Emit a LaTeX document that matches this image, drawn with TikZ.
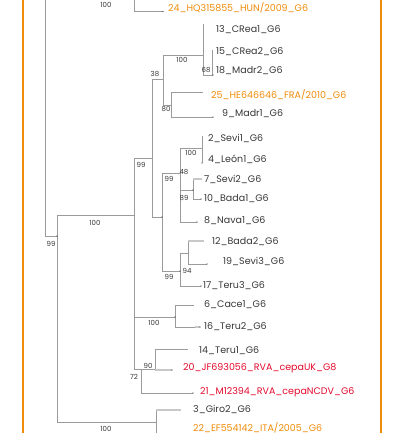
\documentclass[tikz,border=0pt]{standalone}
\usepackage{fontspec}
\setmainfont{Poppins}
\usepackage{xcolor}
\definecolor{treeline}{RGB}{155,155,155}
\definecolor{labeltext}{RGB}{55,55,55}
\definecolor{refstrain}{RGB}{240,140,10}
\definecolor{vaccine}{RGB}{228,10,45}
\usetikzlibrary{calc}
\tikzset{
  branch/.style={draw=treeline,line width=0.6pt},
  stub/.style={draw=treeline!55,line width=1.4pt},
  leaf/.style={anchor=west,inner sep=0pt,text height=6.6pt,text depth=0pt,%
    font=\fontsize{9.5}{11}\selectfont,text=labeltext},
  refleaf/.style={leaf,text=refstrain},
  vacleaf/.style={leaf,text=vaccine},
  boot/.style={inner sep=0pt,text height=5pt,text depth=0pt,%
    font=\fontsize{7}{8}\selectfont,text=labeltext},
  orangeframe/.style={draw=refstrain,line width=1.4pt},
}
\begin{document}
\begin{tikzpicture}[x=1pt,y=-1pt]
\useasboundingbox (0,0) rectangle (407,433);
\clip (0,0) rectangle (407,433);
\draw[orangeframe] (23,-5) rectangle (381,440);
% internal nodes
\coordinate (top) at (134,-5);
\coordinate (root) at (45,-5);
\coordinate (n57) at (57,236);
\coordinate (n134) at (134,215);
\coordinate (n156) at (156,422);
\coordinate (n152) at (152,158);
\coordinate (n175) at (175,317);
\coordinate (n141) at (141,369);
\coordinate (n163) at (163,79);
\coordinate (n162) at (162,217);
\coordinate (n203) at (203,55);
\coordinate (n212) at (212,75);
\coordinate (n171) at (171,105);
\coordinate (n180a) at (180,173);
\coordinate (n180b) at (180,271);
\coordinate (n202) at (202,148);
\coordinate (n193) at (193,190);
\coordinate (n188) at (188,253);
\coordinate (n155) at (155,369);
% tips
\coordinate (leaf24) at (163,11.5);
\coordinate (leaf13) at (203,24);
\coordinate (leaf15) at (212,50);
\coordinate (leaf18) at (213,75);
\coordinate (leaf25) at (203,92);
\coordinate (leaf9) at (213,117);
\coordinate (leaf2) at (202,136);
\coordinate (leaf4) at (202,163);
\coordinate (leaf7) at (202,179);
\coordinate (leaf10) at (201,199);
\coordinate (leaf8) at (197,222);
\coordinate (leaf12) at (204,241);
\coordinate (leaf19) at (207,264);
\coordinate (leaf17) at (201,286);
\coordinate (leaf6) at (194,305);
\coordinate (leaf16) at (200,327);
\coordinate (leaf14) at (188,349);
\coordinate (leaf20) at (172,370);
\coordinate (leaf21) at (193,393);
\coordinate (leaf3) at (181,410);
\coordinate (leaf22) at (182,438);
% branches
\draw[branch] (top) |- (leaf24);
\draw[branch] (root) |- (n57);
\draw[branch] (n57) |- (n134) (n57) |- (n156);
\draw[branch] (n134) |- (n152) (n134) |- (n175) (n134) |- (n141);
\draw[branch] (n152) |- (n163) (n152) |- (n162);
\draw[branch] (n163) |- (n203) (n163) |- (n171);
\draw[branch] (n203) |- (leaf13) (n203) |- (n212);
\draw[branch] (n212) |- (leaf15) (n212) |- (leaf18);
\draw[branch] (n171) |- (leaf25) (n171) |- (leaf9);
\draw[branch] (n162) |- (n180a) (n162) |- (n180b);
\draw[branch] (n180a) |- (n202) (n180a) |- (n193) (n180a) |- (leaf8);
\draw[branch] (n202) |- (leaf2) (n202) |- (leaf4);
\draw[branch] (n193) |- (leaf7) (n193) |- (leaf10);
\draw[branch] (n180b) |- (n188) (n180b) |- (leaf17);
\draw[branch] (n188) |- (leaf12) (n188) |- (leaf19);
\draw[branch] (n175) |- (leaf6) (n175) |- (leaf16);
\draw[branch] (n141) |- (n155) (n141) |- (leaf21);
\draw[branch] (n155) |- (leaf14) (n155) |- (leaf20);
\draw[branch] (n156) |- (leaf3) (n156) |- (leaf22);
\draw[stub] (n193 |- leaf7) -- (leaf7);
\draw[stub] (n188 |- leaf12) -- (leaf12);
\draw[stub] ($(leaf16)+(-5,0)$) -- (leaf16);
\draw[stub] (n155 |- leaf20) -- (leaf20);
\draw[stub] (n156 |- leaf3) -- (leaf3);
\fill[labeltext] (leaf24) circle (0.6pt) (leaf18) circle (0.6pt)
  (leaf9) circle (0.6pt) (leaf4) circle (0.6pt) (leaf10) circle (0.6pt)
  (leaf8) circle (0.6pt) (leaf19) circle (0.6pt) (leaf17) circle (0.6pt)
  (leaf16) circle (0.6pt) (leaf20) circle (0.6pt) (leaf21) circle (0.6pt)
  (n162) circle (0.6pt) (n180b) circle (0.6pt) (n175) circle (0.6pt)
  (n193) circle (0.6pt) (n57) circle (0.6pt);
% bootstrap values
\node[boot] (b24) at (106,5) {100};
\node[boot] (b203) at (182,60) {100};
\node[boot] (b212) at (206,70) {68};
\node[boot] (b163) at (155,74) {38};
\node[boot] (b171) at (166,109) {80};
\node[boot] (b152) at (141,165) {99};
\node[boot] (b202) at (191,153) {100};
\node[boot] (b162) at (169,179) {99};
\node[boot] (b180a) at (184,172) {48};
\node[boot] (b193) at (184,198) {89};
\node[boot] (b134) at (95,223) {100};
\node[boot] (b57) at (51,244) {99};
\node[boot] (b180b) at (169,277) {99};
\node[boot] (b188) at (187,271) {94};
\node[boot] (b175) at (154,323) {100};
\node[boot] (b155) at (148,366) {90};
\node[boot] (b141) at (134,377) {72};
\node[boot] (b156) at (106,429) {100};
% tip labels
\node[refleaf] (t24) at (168,8) {24\_HQ315855\_HUN/2009\_G6};
\node[leaf] (t13) at (216,29) {13\_CRea1\_G6};
\node[leaf] (t15) at (216,51) {15\_CRea2\_G6};
\node[leaf] (t18) at (216,70) {18\_Madr2\_G6};
\node[refleaf] (t25) at (211,95) {25\_HE646646\_FRA/2010\_G6};
\node[leaf] (t9) at (222,113) {9\_Madr1\_G6};
\node[leaf] (t2) at (208,138) {2\_Sevi1\_G6};
\node[leaf] (t4) at (208,159) {4\_León1\_G6};
\node[leaf] (t7) at (204,179) {7\_Sevi2\_G6};
\node[leaf] (t10) at (204,198) {10\_Bada1\_G6};
\node[leaf] (t8) at (204,220) {8\_Nava1\_G6};
\node[leaf] (t12) at (212,241) {12\_Bada2\_G6};
\node[leaf] (t19) at (223,261) {19\_Sevi3\_G6};
\node[leaf] (t17) at (203,285) {17\_Teru3\_G6};
\node[leaf] (t6) at (204,304) {6\_Cace1\_G6};
\node[leaf] (t16) at (204,326) {16\_Teru2\_G6};
\node[leaf] (t14) at (199,350) {14\_Teru1\_G6};
\node[vacleaf] (t20) at (183,367) {20\_JF693056\_RVA\_cepaUK\_G8};
\node[vacleaf] (t21) at (200,391) {21\_M12394\_RVA\_cepaNCDV\_G6};
\node[leaf] (t3) at (193,409) {3\_Giro2\_G6};
\node[refleaf] (t22) at (193,428.5) {22\_EF554142\_ITA/2005\_G6};
\end{tikzpicture}
\end{document}
